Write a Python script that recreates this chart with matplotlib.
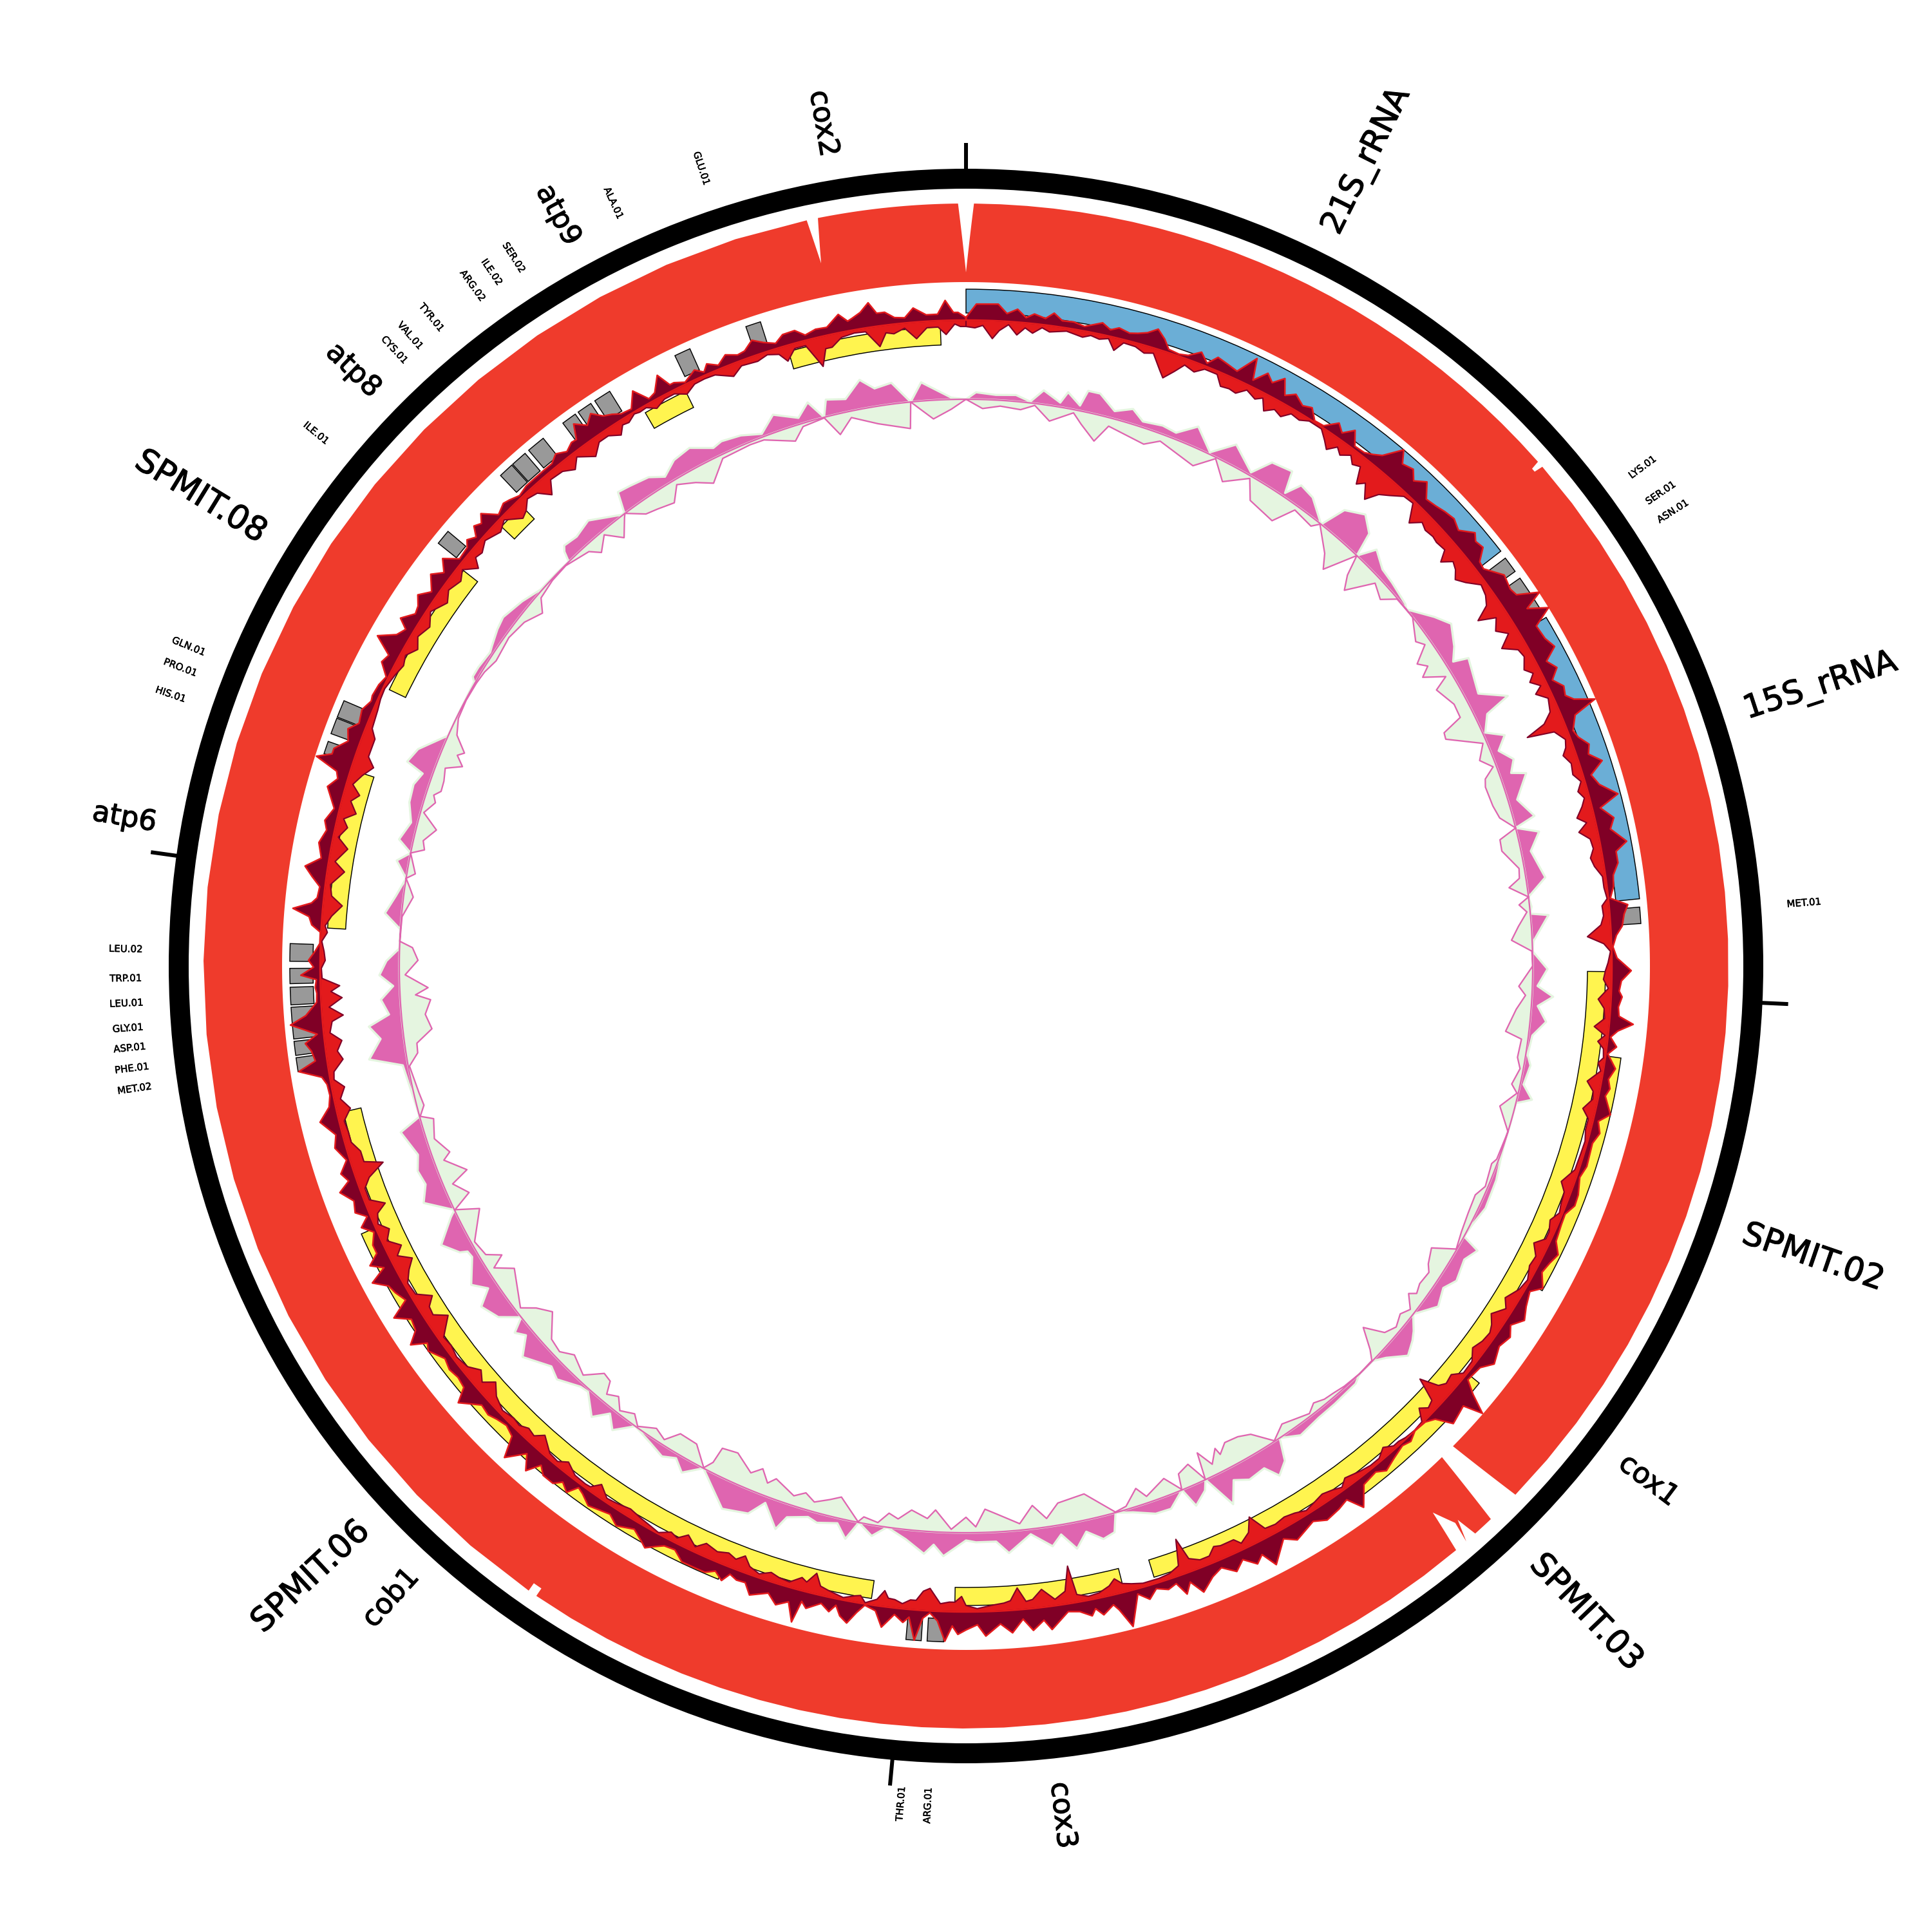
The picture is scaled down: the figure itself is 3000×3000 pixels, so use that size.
import numpy as np
import matplotlib
matplotlib.use("Agg")
import matplotlib.pyplot as plt
import matplotlib.patheffects as pe

# all angles in degrees clockwise from the top, radii in pixels of the 3000 px picture
tick_deg = [0, 92.65, 185.3, 277.95]

rrna_names = ["21S_rRNA", "15S_rRNA"]
rrna_start = [0, 59]
rrna_end = [52.2, 84.3]
rrna_label_deg = [26.5, 71.9]

cds_in_names = ["cox1", "cox3", "cob1", "atp6", "SPMIT.08", "atp8", "atp9", "cox2"]
cds_in_start = [90.5, 165.8, 188.5, 273.4, 295.6, 313.4, 329.9, 343.9]
cds_in_end = [162.9, 181.0, 256.8, 287.7, 308.2, 316.0, 334.0, 357.7]
cds_in_label_deg = [127.0, 173.5, 222.3, 280.0, 301.5, 314.2, 331.5, 350.4]

cds_out_names = ["SPMIT.02", "SPMIT.03", "SPMIT.06"]
cds_out_start = [98.0, 129.1, 202.0]
cds_out_end = [119.4, 143.0, 246.1]
cds_out_label_deg = [109.0, 136.2, 227.0]

trna_names = ["LYS.01", "SER.01", "ASN.01", "MET.01", "ARG.01", "THR.01", "MET.02", "PHE.01",
              "ASP.01", "GLY.01", "LEU.01", "TRP.01", "LEU.02", "HIS.01", "PRO.01", "GLN.01",
              "ILE.01", "CYS.01", "VAL.01", "TYR.01", "ARG.02", "ILE.02", "SER.02", "ALA.01", "GLU.01"]
trna_start = [52.9, 55.0, 56.5, 85.0, 181.9, 183.8, 261.0, 262.4, 263.8, 265.0, 266.7, 268.5, 270.4,
              288.3, 290.1, 291.6, 308.7, 316.5, 317.9, 319.7, 323.4, 325.0, 326.7, 334.5, 341.0]
trna_end = [54.3, 56.5, 58.0, 86.4, 183.3, 185.1, 262.2, 263.6, 265.0, 266.5, 268.2, 269.8, 271.9,
            289.4, 291.5, 293.1, 310.0, 317.8, 319.3, 321.3, 324.7, 326.3, 328.2, 335.9, 342.3]

# outer edge of the depth track, with its notches and the gap near 135 deg
depth_edge = [(0, 1077), (0.6, 1184), (48.6, 1184), (48.7, 1170), (49.0, 1170), (49.1, 1184),
              (133.9, 1184), (134.6, 1062), (135.9, 1062), (136.5, 1184), (138.1, 1184),
              (138.4, 1150), (139.0, 1184), (138.7, 1151), (139.5, 1116), (140.0, 1184),
              (214.3, 1184), (214.3, 1170), (215.0, 1170), (215.0, 1184), (347.94, 1184),
              (348.35, 1114), (348.8, 1184), (359.4, 1184), (360, 1077)]

cov_out = [(0,4),(0.9,25),(2.8,26),(3.6,12),(4.5,20),(5.3,8),(6,15),(7,10),(7.7,20),(8.5,10),(9.5,11),(10.5,7),
           (12,18),(12.8,10),(13.5,16),(14.5,12),(15.2,15),(16,20),(16.8,30),(17.6,18),(18.2,5),(19.2,3),(20,6),
           (21,18),(21.8,5),(22.5,20),(23.5,16),(24.5,12),(25.6,43),(26.1,10),(27,30),(27.7,20),(28.5,35),(29.2,12),
           (30,22),(31,12),(31.8,17),(32.6,2),(33.5,3),(34.5,20),(35.2,10),(36,25),(36.8,5),(37.8,6),(38.5,12),
           (39.2,20),(40.3,48),(41,30),(42,35),(42.7,22),(43.6,35),(44.6,15),(45.6,18),(46.5,22),(47.5,25),(48.5,18),
           (49.6,35),(50.2,27),(51,30),(51.8,12),(52.5,10),(54,30),(55.3,25),(56,28),(56.9,60),(57.5,30),(58.4,59),
           (59.2,28),(60.5,30),(61.5,37),(62.3,15),(63.2,25),(64,10),(64.9,22),(65.7,18),(66.3,28),(67,58),(67.6,20),
           (68.8,8),(69.5,12),(70.4,24),(71.2,18),(72.1,35),(73,12),(74,20),(75.2,44),(76,12),(77.1,29),(78,20),
           (79.3,41),(80,22),(81,22),(82,12),(83,10),(84,3),(84.7,29),(85.5,22),(86.5,18),(87.3,8),(88.3,2),(89.3,8),
           (90.4,30),(91.3,15),(92.2,12),(92.7,17),(93.6,12),(94.4,14),(95,37),(95.7,14),(96.3,4),(97.1,15),(97.8,3),
           (99,18),(100,10),(100.8,15),(101.5,10),(103,24),(103.8,8),(104.8,15),(105.8,8),(107.9,10),(109,5),(110.5,12),
           (111.5,13),(112.5,4),(113.5,5),(115,8),(116,20),(117,14),(118,10),(119.2,23),(120,8),(121.3,15),(122.4,24),
           (123.4,10),(124.3,20),(125.5,14),(127,24),(128,10),(129.5,7),(130.2,28),(130.9,58),(131.5,28),(132,30),
           (133.2,35),(134,10),(134.8,2),(136,0.5),(136.9,8),(137.7,4),(139,10),(140.2,17),(141,8),(142.5,12),(143.7,40),
           (144.5,15),(145.5,20),(146.9,24),(148,14),(150,26),(151,14),(152.6,44),(153.3,20),(154,30),(155,14),(155.9,27),
           (157,12),(158,20),(159.2,37),(160,15),(160.6,31),(161.2,10),(162,15),(163,8),(163.8,21),(164.7,8),(165.8,55),
           (166.6,25),(167,15),(168,27),(168.6,15),(169,25),(170,15),(171,12),(172.6,36),(173.2,20),(174.2,34),(175,15),
           (176,35),(177,20),(178.3,38),(179,20),(180,28),(180.7,35),(181.2,22),(181.8,46),(182.5,15),(183.2,3),(183.8,12),
           (184.4,47),(185,12),(185.5,21),(186.3,10),(187.3,32),(188,8),(189,2),(189.6,15),(190.3,34),(191,25),(191.5,10),
           (192,22),(192.8,12),(194,25),(194.5,16),(194.9,51),(195.6,22),(196.6,32),(197.5,18),(199,30),(199.7,14),(200.5,15),
           (201.2,10),(201.7,24),(202.5,14),(203.3,22),(204.4,22),(205.5,22),(206.5,10),(207.5,12),(208.2,20),(208.9,29),
           (209.5,22),(210.5,12),(212,22),(213,12),(213.8,15),(215,20),(216,10),(216.6,6),(217.2,23),(218,14),(218.6,25),
           (219.7,25),(220.4,15),(221.1,37),(222,16),(223.2,44),(224,12),(225,6),(226,10),(226.8,15),(227.8,12),(228.6,25),
           (229.3,37),(230,15),(231,12),(232,15),(233,10),(234.4,24),(235,18),(235.7,41),(236.5,22),(237.5,18),(238.4,40),
           (239.2,10),(240.2,18),(241,22),(241.9,42),(242.6,15),(243.3,33),(244,15),(244.8,15),(245.8,5),(246.6,20),(247.3,5),
           (248,20),(249,15),(250.1,31),(250.8,12),(251.6,20),(252.6,5),(253.9,17),(255,10),(256.4,29),(257.5,10),(258.5,5),
           (259.5,6),(260.2,12),(261,46),(261.7,18),(262.6,22),(263.3,30),(264,10),(265,50),(265.7,25),(266.8,7),(267.6,6),
           (268.1,8),(268.8,6),(269.2,30),(269.9,10),(270.5,18),(271.3,8),(272,1),(273,1),(273.6,15),(274.3,20),(274.9,46),
           (275.5,18),(276,10),(277,8),(277.8,22),(278.6,35),(279.5,12),(280,15),(280.8,20),(282,12),(282.8,18),(284,8),
           (285.7,27),(286.6,15),(287.2,20),(287.9,57),(288.5,35),(289,35),(290,18),(291,25),(291.8,12),(293,16),(294,8),
           (294.5,10),(295.6,8),(296.5,3),(297.5,20),(298.3,15),(299.3,45),(300.2,20),(301,12),(301.6,28),(302.6,12),(303.3,15),
           (304.1,25),(305,10),(306.2,27),(307,12),(307.9,27),(308.8,6),(310,8),(310.5,16),(311.2,8),(311.8,22),(312.4,16),
           (313,27),(314,6),(315,13),(315.6,10),(316.5,4),(317.5,8),(318.5,8),(319.5,8),(320.5,8),(321.3,16),(322.2,8),(323,15),
           (323.5,14),(324.1,36),(325,22),(325.8,34),(326.6,20),(327.3,15),(328,8),(329,6),(329.9,29),(330.8,6),(331.5,10),
           (332.4,32),(333,10),(333.4,10),(334.3,3),(335.5,14),(336.2,5),(336.7,15),(337.6,6),(338.5,17),(339.5,10),(340.2,12),
           (341.1,24),(342,15),(343,8),(343.8,18),(344.9,19),(345.7,8),(346.7,13),(347.7,12),(348.9,28),(349.6,15),(350,18),
           (350.8,25),(351.6,38),(352.2,20),(352.9,20),(353.7,10),(354.6,8),(355.4,22),(356.5,10),(357.5,10),(358.2,31),
           (358.9,12),(359.3,12),(360,4)]

cov_in = [(0,10),(0.8,12),(1.5,8),(2.4,28),(3,15),(3.8,5),(4.6,20),(5.3,8),(6,15),(6.8,5),(7.5,10),(9,5),(10.5,10),(11.2,5),
          (12,8),(12.8,4),(13.5,20),(14.2,5),(15.3,6),(16.2,12),(17,8),(18,30),(18.5,40),(19.3,25),(20,10),(21,15),(21.8,5),
          (23,5),(23.7,20),(24.5,18),(25.2,20),(26,8),(27,15),(27.6,8),(28.2,25),(29,15),(29.8,20),(30.5,8),(31.4,10),(32.2,3),
          (33.5,3),(34.3,15),(34.9,25),(35.6,12),(36.2,20),(37,10),(37.6,20),(38.3,15),(39,40),(39.6,30),(40.5,50),(41.2,30),
          (42,20),(43,6),(44,4),(45,30),(45.8,15),(46.5,20),(47.4,18),(48,20),(49,18),(49.6,35),(50.3,20),(51,25),(51.7,35),
          (52.5,25),(53.5,8),(54.5,12),(55.3,20),(56,44),(56.7,18),(57.7,30),(58.5,15),(59.35,36),(60.2,15),(61,12),(62.05,22),
          (62.7,12),(63.3,23),(64,10),(64.5,23),(65.3,8),(66.5,14),(67.3,30),(67.85,62),(68.3,20),(69.3,8),(70,12),(70.6,20),
          (71.5,12),(72.5,15),(73.3,6),(74.1,15),(74.8,8),(75.5,15),(76.4,27),(77,14),(77.7,29),(78.5,14),(79.4,12),(80.2,19),
          (81,15),(82,5),(83,5),(84,2),(84.6,11),(85.5,10),(86.3,15),(87.3,37),(88,12),(88.7,2),(89.7,6),(90.4,10),(91.2,13),
          (92,5),(93,20),(93.8,10),(94.7,8),(95.5,23),(96.2,5),(96.8,15),(97.4,5),(98.2,3),(98.7,10),(99.4,4),(100.5,22),
          (101.3,10),(102,8),(103,20),(103.8,8),(104.8,8),(105.8,4),(107,5),(108.5,6),(109.9,20),(110.7,10),(111.8,8),(112.6,5),
          (113.5,14),(114.5,8),(115.2,8),(116,22),(117,10),(118,12),(119.2,4),(120.3,8),(121.6,20),(122.4,10),(123.5,25),
          (124.3,15),(125,10),(126,12),(127,18),(128,6),(129.3,5),(130.1,18),(131,15),(131.6,22),(132.3,50),(133,14),(133.7,10),
          (134.3,20),(135,2),(136,0.5),(137,2),(137.7,5),(138.3,5),(139.1,14),(140,5),(141,5),(142,8),(143.5,14),(144.2,5),
          (145,10),(146,14),(147,10),(148,6),(149,12),(150,15),(151,12),(152,14),(152.8,41),(153.5,20),(154.5,10),(155,20),
          (156.3,20),(156.9,23),(157.6,12),(158.5,12),(159.4,20),(159.9,55),(160.5,15),(161.5,8),(162.5,6),(164,6),(165,10),
          (165.8,14),(166.4,24),(167,15),(168,8),(169,6),(170,12),(170.4,58),(171,20),(172,10),(173.1,28),(174,14),(174.6,12),
          (175.3,34),(176,15),(176.6,12),(177.5,10),(179,5),(180,10),(180.4,24),(181,15),(181.5,15),(182.3,12),(183.3,35),
          (183.9,30),(184.5,15),(185,15),(185.7,8),(186.4,13),(187,14),(187.4,25),(188,10),(189,2),(189.5,12),(190,10),(191,4),
          (192.4,10),(193.2,14),(193.8,32),(194.5,15),(195,20),(196,8),(197,10),(197.8,14),(198.8,6),(199.8,12),(200.5,25),
          (201.2,15),(202,20),(203,15),(204.2,20),(205,8),(206,20),(206.8,8),(207.5,12),(208.5,2),(209.4,5),(210.5,8),(211.7,12),
          (213,8),(214,6),(215.1,19),(215.8,6),(216.3,5),(217.5,6),(218.7,16),(219.5,6),(220.5,8),(221.9,24),(222.6,12),
          (223.4,15),(224.2,8),(225,10),(226.2,6),(227.5,14),(228.5,28),(229.3,12),(230.2,23),(231.2,10),(232.5,6),(233.6,10),
          (234.6,8),(236,33),(236.8,14),(237.6,16),(238.3,29),(239.2,8),(240.4,6),(241.4,18),(242.2,31),(243,12),(243.7,25),
          (244.6,8),(245.5,19),(246.3,6),(247.2,12),(247.8,29),(248.6,8),(249.7,8),(250.5,20),(251.4,48),(252,20),(253,20),
          (254,10),(255,10),(256,8),(257,22),(258,10),(259,20),(259.8,6),(260.5,8),(261.5,25),(262.3,18),(263.2,27),(264,10),
          (265,15),(265.5,33),(266.3,12),(267.1,33),(267.7,16),(268.2,30),(268.9,3),(269.8,2),(270.5,8),(271.3,6),(272.2,2),
          (273,10),(273.6,6),(274.5,15),(275.5,30),(276.3,12),(277.3,8),(278.6,27),(279.4,10),(280.7,26),(281.6,8),(282.6,19),
          (283.3,10),(284,27),(285,14),(285.7,25),(286.5,10),(287.5,20),(288.5,33),(289.3,20),(291,20),(291.8,10),(293.5,7),
          (294.5,4),(295.5,3),(297,8),(298.1,13),(299,8),(300,20),(301,10),(302.3,18),(303.5,6),(305,20),(306,10),(307.3,17),
          (308.2,8),(309.2,26),(309.8,12),(310.5,15),(311.5,6),(313,15),(314,6),(315.3,25),(316,20),(316.8,8),(317.8,12),
          (318.7,29),(319.5,10),(320.8,12),(321.8,22),(322.6,8),(324,25),(325,10),(326,10),(327,20),(327.6,8),(328.2,10),
          (329,3),(329.5,5),(330.2,4),(331,13),(332,6),(333,6),(334,15),(335,6),(336,5),(337,6),(338.5,19),(339.5,8),(341,10),
          (342,5),(343,10),(343.6,24),(344.5,8),(345.5,8),(346.6,46),(347.2,20),(347.8,20),(348.8,8),(350,5),(351,6),(352.1,32),
          (352.8,12),(353.5,15),(354.5,8),(355.5,26),(356.5,10),(357.5,10),(358.2,22),(359,6),(359.5,10),(360,10)]

gc_out = [(0,0),(1,11),(3,8),(5,10),(6.5,2),(7.7,22),(9.5,7),(10.1,25),(11.5,8),(12,33),(13.2,33),(15,12),(16.7,23),(18,9),
          (20,13),(21.5,10),(23.3,32),(25.4,3),(27.4,32),(30,5),(31.3,35),(33.4,40),(34,6),(34.9,30),(36.5,25),(38.8,0),
          (39.7,40),(41.5,56),(43,38),(43.6,0),(44.6,28),(46.4,13),(48,10),(50.5,4),(51,0),(53.3,27),(54.8,42),(56.8,26),
          (58,12),(58.5,35),(62,21),(63.5,60),(64.2,19),(65.8,4),(66.8,30),(68,12),(69.3,29),(70.5,18),(71,40),(73.2,14),
          (75.2,33),(75.9,0),(76.8,34),(78.5,15),(81.3,30),(83,0),(84,3),(84.7,0),(85,28),(87.5,2),(88.5,0),(90.3,23),(92,8),
          (93,33),(94,10),(95.5,25),(97,6),(99,3),(100,10),(102,5),(103.3,23),(104,0),(108,0),(110,3),(112,8),(115,10),(117,3),
          (118.5,0),(119.1,29),(120.5,18),(122.7,25),(124,14),(125.8,24),(127.9,0),(129.2,17),(130,25),(131.4,35),(133,12),
          (134.2,0),(136,0),(137,7),(139.9,9),(142,10),(144.5,15),(146.4,0),(147.2,34),(148.4,49),(149.3,27),(151.1,31),
          (152.5,20),(153.6,53),(155,0),(155.5,15),(156.9,31),(157.6,0),(159.3,21),(160.9,20),(163,7),(164,3),(164.7,0),
          (165.3,29),(166.5,35),(168,18),(169.2,41),(170.5,15),(171.5,31),(173.5,8),(175.8,34),(177,15),(179,15),(180,12),
          (182.2,37),(183.2,20),(184.1,35),(186,15),(188,0),(189.4,17),(190.9,0),(191.9,29),(193,8),(195,15),(196,10),(198,20),
          (198.7,43),(200.5,10),(201.7,35),(204.2,44),(207.6,0),(209.3,22),(210.5,7),(211.8,16),(213.5,8),(215.7,0),(217.3,26),
          (218.5,8),(219.7,30),(221.6,4),(222.5,6),(224.7,23),(226,15),(228.6,38),(230,12),(230.9,23),(231.7,0),(233.1,28),
          (234.9,40),(236,15),(237.2,34),(239.5,10),(240.2,12),(240.5,23),(242,43),(244,10),(244.5,0),(246.4,39),(248,25),
          (249.5,29),(251,20),(253.6,35),(254.6,0),(257.9,4),(260,8),(261.1,58),(262.9,36),(264.2,52),(265.2,19),(266.7,30),
          (268,10),(269.1,31),(270.5,20),(271.8,0),(273.7,0),(275.2,26),(277,12),(278.9,0),(280.5,19),(281.5,0),(282.6,22),
          (284.5,10),(286.4,21),(288.2,23),(289.5,15),(290.1,44),(291.6,35),(294,0),(297,0),(300,2),(300.4,8),(301.5,8),
          (303.4,5),(304,8),(305.7,16),(307,20),(309.4,12),(311.5,2),(314,1),(315.5,0),(315.9,16),(316.3,23),(317.8,20),
          (319.7,27),(322.7,1),(323,2),(323.7,33),(325,30),(327,25),(328.4,12),(330,27),(331.9,32),(334,15),(335,19),(337,15),
          (339,5),(340.7,27),(343,10),(344.3,29),(345.5,0),(346.1,26),(348,20),(349.7,45),(351,28),(352.7,33),(354.4,0),
          (355.6,29),(358.5,3),(360,0)]

gc_in = [(0,0),(1.7,14),(3.5,9),(5.6,12),(7,3),(8.7,24),(11,5),(12,20),(13.7,41),(14.8,13),(18.8,24),(20.3,11),(24.4,27),
         (26.2,2),(27.9,29),(30.2,4),(31.4,33),(34.5,41),(35.8,7),(38.1,12),(38.7,1),(41,31),(42,51),(43.6,0),(44.3,32),
         (45.2,52),(46.9,10),(48.5,21),(49.6,1),(52,0),(54.2,19),(55,10),(56.2,37),(57,25),(57.7,41),(58.9,10),(59.6,33),
         (61.8,20),(63.3,21),(64,54),(64.7,56),(66.7,6),(68.2,21),(69.3,5),(70.2,23),(71,27),(73.1,25),(74.5,20),(75.9,0),
         (76.7,28),(77.9,29),(80,8),(81,10),(81.8,28),(83,0),(83.7,16),(84.5,5),(85.9,20),(87.3,32),(88.5,1),(90,0),(92.1,21),
         (93,10),(94.5,23),(96.9,36),(97.5,10),(99.4,12),(100.5,5),(102.2,13),(103,2),(104.7,23),(107,0),(110,3),(110.6,8),
         (113,4),(114.2,13),(116.2,11),(118.2,7),(120,1),(121.2,35),(122.8,26),(123.5,18),(125,20),(126,15),(126.5,25),
         (127.7,8),(128.7,16),(130,8),(131.2,16),(132.3,46),(133.5,15),(134.2,1),(136,0),(138,2),(139.2,5),(140.4,7),(141.5,13),
         (142.5,4),(145.4,16),(147,1),(148.7,29),(150,36),(151.5,38),(152.5,25),(152.7,37),(153.7,17),(154.6,43),(155,1),
         (156,33),(157.3,25),(157.6,1),(158.9,27),(161.2,10),(162,27),(163.5,5),(164.7,1),(167.4,40),(170.3,34),(171.7,13),
         (173,36),(174.5,10),(176.7,27),(178,36),(179,9),(180,24),(181.5,5),(183.2,34),(184,20),(185.7,31),(187,15),(188,22),
         (189,5),(190.5,10),(191,1),(193.2,33),(194.3,25),(195.8,15),(196.9,25),(198,15),(200.3,31),(201,20),(202,38),(203,25),
         (205.1,45),(206.8,41),(207,15),(207.6,1),(209.4,28),(211.4,29),(212.5,8),(213.8,16),(215.5,2),(216.5,15),(217.9,5),
         (218.9,21),(220,12),(220.6,31),(221.6,34),(223.1,10),(225.2,23),(226.5,10),(228,14),(230.1,43),(231.5,27),(232.5,8),
         (236.2,36),(237.4,10),(238.1,31),(239,10),(240.7,5),(243.5,36),(244.5,1),(245.5,32),(247,14),(247.8,43),(249.6,15),
         (250.2,28),(252,12),(254,20),(254.6,1),(255.6,11),(257,8),(259.8,2),(261,18),(262,19),(263.3,45),(264.9,37),(266.4,47),
         (267,24),(267.7,44),(269.1,9),(270.6,29),(271.9,20),(272.5,0),(275,1),(277.1,15),(278,8),(278.9,0),(279.5,13),(281.5,0),
         (282.1,20),(283,15),(284.4,31),(285.8,5),(287.1,18),(287.8,12),(288.4,21),(289.5,20),(290.8,15),(291.6,39),(292.5,25),
         (293,34),(294.4,12),(296,3),(298,1),(300,2),(301.4,4),(303,10),(305.7,6),(307.9,11),(309.8,24),(310.9,7),(313,2),(315,1),
         (317.7,10),(318.6,24),(320,6),(321.4,29),(322.7,5),(323,0),(324.7,20),(326,24),(327.8,30),(329,8),(330.8,20),(332.4,34),
         (334.4,6),(337.5,4),(339,5),(342,23),(343.2,5),(345.5,1),(346.7,32),(348.2,10),(350.8,27),(354.1,41),(354.4,0),
         (355.5,15),(356.6,29),(358.5,15),(360,0)]


def densify(points, n=24):
    # polygons on a polar axis are not curved by matplotlib, so add vertices along each edge
    deg, rad = [], []
    for (a0, r0), (a1, r1) in zip(points[:-1], points[1:]):
        deg.extend(np.linspace(a0, a1, n, endpoint=False))
        rad.extend(np.linspace(r0, r1, n, endpoint=False))
    deg.append(points[-1][0])
    rad.append(points[-1][1])
    return np.array(deg), np.array(rad)


def profile(ax, pairs, base, sign, face, edge, lw):
    deg = np.array([p[0] for p in pairs], dtype=float)
    amp = np.array([p[1] for p in pairs], dtype=float)
    back = np.linspace(360, 0, 721)
    theta = np.radians(np.concatenate([deg, back]))
    rad = np.concatenate([base + sign * amp, np.full(back.size, base)])
    ax.fill(theta, rad, facecolor=face, edgecolor=edge, linewidth=lw, joinstyle="round", zorder=4)


def boxes(ax, start, end, r0, r1, color):
    start = np.array(start)
    end = np.array(end)
    ax.bar(np.radians((start + end) / 2), r1 - r0, width=np.radians(end - start), bottom=r0,
           color=color, edgecolor="black", linewidth=0.35, zorder=3)


def label(ax, deg, rad, text, size, stroke):
    rot = 90 - deg if deg < 180 else 270 - deg
    ax.text(np.radians(deg), rad, text, rotation=rot, rotation_mode="anchor",
            ha="center", va="center", fontsize=size, color="black", zorder=6,
            path_effects=[pe.withStroke(linewidth=stroke, foreground="black")])


fig = plt.figure(figsize=(10, 10), dpi=300)
ax = fig.add_axes([0, 0, 1, 1], polar=True)
ax.set_theta_zero_location("N")
ax.set_theta_direction(-1)

# black outer ring and its ticks
ax.bar(0, 31, width=2 * np.pi, bottom=1207, color="black", linewidth=0, zorder=2)
for t in tick_deg:
    ax.plot([np.radians(t)] * 2, [1236, 1278], color="black", lw=1.45, solid_capstyle="butt", zorder=2)

# depth track
edge_deg, edge_r = densify(depth_edge)
back = np.linspace(360, 0, 721)
ax.fill(np.radians(np.concatenate([edge_deg, back])), np.concatenate([edge_r, np.full(back.size, 1062)]),
        facecolor="#ef3b2c", edgecolor="none", zorder=2)

# genes
boxes(ax, rrna_start, rrna_end, 1014, 1051, "#6baed6")
boxes(ax, trna_start, trna_end, 1014, 1050, "#999999")
boxes(ax, cds_in_start, cds_in_end, 965, 993, "#fff44f")
boxes(ax, cds_out_start, cds_out_end, 1003, 1027, "#fff44f")

# coverage and GC skew
profile(ax, cov_in, 1003, -1, "#e31a1c", "#800026", 0.5)
profile(ax, cov_out, 1003, 1, "#800026", "#e31a1c", 0.6)
profile(ax, gc_out, 880, 1, "#df65b0", "#e5f5e0", 0.8)
profile(ax, gc_in, 880, -1, "#e5f5e0", "#df65b0", 0.55)

for name, s, e in zip(trna_names, trna_start, trna_end):
    label(ax, (s + e) / 2, 1305, name, 3.6, 0.12)
for name, d in zip(cds_in_names, cds_in_label_deg):
    if name.startswith("SPMIT"):
        label(ax, d, 1394, name, 12.3, 0.3)
    else:
        label(ax, d, 1327, name, 10.6, 0.3)
for name, d in zip(cds_out_names, cds_out_label_deg):
    label(ax, d, 1391, name, 12.3, 0.3)
for name, d in zip(rrna_names, rrna_label_deg):
    label(ax, d, 1396, name, 12, 0.3)

ax.set_ylim(0, 1500)
ax.set_axis_off()
fig.savefig("out.png", dpi=300, facecolor="white")
plt.close(fig)
